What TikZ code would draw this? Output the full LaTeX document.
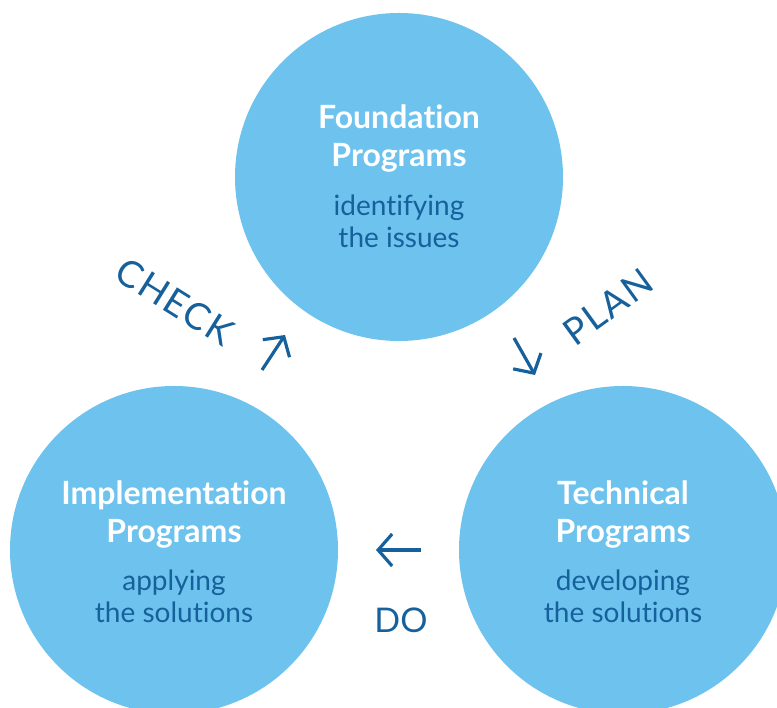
\documentclass[tikz,border=0pt]{standalone}
\usepackage{fontspec}
\setmainfont{Lato}[Ligatures=NoCommon]
\usetikzlibrary{arrows.meta}
\definecolor{circblue}{RGB}{109,195,238}
\definecolor{inkblue}{RGB}{22,96,155}
\begin{document}
\begin{tikzpicture}[x=1pt,y=1pt,
  blob/.style={circle,fill=circblue,minimum size=328pt,inner sep=0pt},
  head/.style={align=center,text=white,font=\bfseries\fontsize{32}{38}\selectfont},
  sub/.style={align=center,text=inkblue,font=\fontsize{28}{32}\selectfont},
  cyc/.style={text=inkblue,font=\fontsize{34}{40}\selectfont},
  wide/.style={font=\fontsize{37}{40}\selectfont\addfontfeature{LetterSpace=5}},
  turn/.style={draw=inkblue,line width=3.2pt,-{Straight Barb[length=14pt,width=32pt]}}]
\useasboundingbox (0,0) rectangle (777,708);
\node[blob] (found) at (399,531) {};
\node[blob] (impl) at (174,158) {};
\node[blob] (tech) at (623,158) {};
\node[head] (foundhead) at ([yshift=38]found.center) {Foundation\\Programs};
\node[sub] (foundsub) at ([yshift=-44]found.center) {identifying\\the issues};
\node[head] (implhead) at ([yshift=35]impl.center) {Implementation\\Programs};
\node[sub] (implsub) at ([yshift=-46]impl.center) {applying\\the solutions};
\node[head] (techhead) at ([yshift=35]tech.center) {Technical\\Programs};
\node[sub] (techsub) at ([yshift=-46]tech.center) {developing\\the solutions};
% cycle labels
\node[cyc,wide,rotate=-32] (check) at (175,406) {CHECK};
\node[cyc,wide,rotate=36] (plan) at (608,401) {PLAN};
\node[cyc] (do) at (401,88) {DO};
\coordinate (checkfrom) at (262,338);
\coordinate (checkto) at (285,373);
\coordinate (planfrom) at (514,370);
\coordinate (planto) at (535,333);
\coordinate (dofrom) at (421,158);
\coordinate (doto) at (376,158);
\draw[turn] (checkfrom) -- (checkto);
\draw[turn] (planfrom) -- (planto);
\draw[turn] (dofrom) -- (doto);
\end{tikzpicture}
\end{document}
